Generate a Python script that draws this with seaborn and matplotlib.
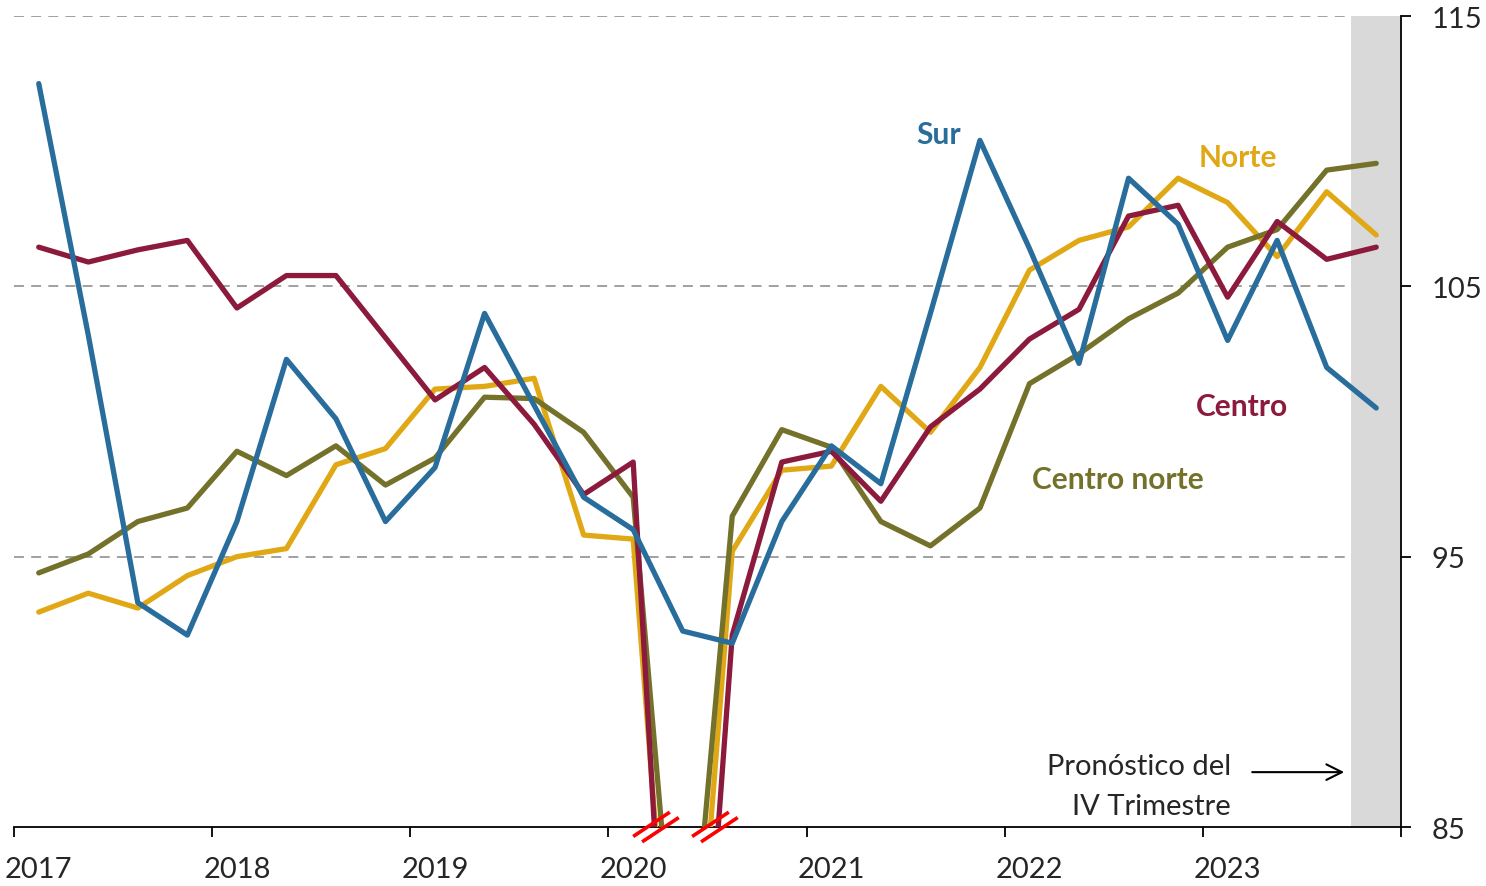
import numpy as np
import pandas as pd
import seaborn as sns
import matplotlib.pyplot as plt

# Datos trimestrales 2017T1 - 2023T4 (indice regional)
years = ['2017', '2018', '2019', '2020', '2021', '2022', '2023']

sur = [112.5, 103.2, 93.3, 92.1, 96.3, 102.3, 100.1, 96.3, 98.3, 104.0,
       100.6, 97.2, 96.0, 92.25, 91.8, 96.3, 99.1, 97.7, 104.0, 110.4,
       106.4, 102.15, 109.0, 107.3, 103.0, 106.7, 102.0, 100.5]
norte = [92.95, 93.65, 93.1, 94.3, 95.0, 95.3, 98.4, 99.0, 101.2, 101.3,
         101.6, 95.8, 95.65, 72.0, 95.2, 98.2, 98.35, 101.3, 99.6, 102.0,
         105.6, 106.7, 107.2, 109.0, 108.1, 106.1, 108.5, 106.9]
centro_norte = [94.4, 95.1, 96.3, 96.8, 98.9, 98.0, 99.1, 97.65, 98.65, 100.9,
                100.85, 99.6, 97.2, 76.0, 96.5, 99.7, 99.05, 96.3, 95.4, 96.8,
                101.4, 102.5, 103.8, 104.75, 106.45, 107.1, 109.3, 109.55]
centro = [106.45, 105.9, 106.35, 106.7, 104.2, 105.4, 105.4, 103.1, 100.8, 102.0,
          99.9, 97.3, 98.5, 67.0, 92.1, 98.5, 98.9, 97.05, 99.8, 101.2,
          103.05, 104.15, 107.6, 108.0, 104.6, 107.4, 106.0, 106.45]

regions = ['Norte', 'Centro norte', 'Centro', 'Sur']
colors = {'Norte': '#e1a816', 'Centro norte': '#74722a',
          'Centro': '#8c1a3c', 'Sur': '#286d9b'}

n = len(sur)
df = pd.concat([
    pd.DataFrame({'t': np.arange(n), 'valor': vals, 'region': name})
    for name, vals in zip(regions, [norte, centro_norte, centro, sur])
])

sns.set_style('white')
plt.rcParams['font.family'] = ['Lato', 'DejaVu Sans']

fig = plt.figure(figsize=(14.86, 8.87), dpi=100)
ax = fig.add_axes([0.0094, 0.0665, 0.9334, 0.9143])

# Lineas de referencia y zona de pronostico
for yv in [95, 105, 115]:
    ax.axhline(yv, color='#999999', lw=1.3, ls=(0, (5.5, 4)), zorder=1)
ax.axvspan(n - 1.5, n - 0.5, color='#d9d9d9', lw=0, zorder=2)

sns.lineplot(data=df, x='t', y='valor', hue='region', hue_order=regions,
             palette=colors, linewidth=3.8, legend=False, ax=ax,
             zorder=3, solid_joinstyle='round', solid_capstyle='round')

ax.set_xlim(-0.5, n - 0.5)
ax.set_ylim(85, 115)

# Ejes
ax.yaxis.tick_right()
ax.set_yticks([85, 95, 105, 115])
ax.set_xticks(np.arange(-0.5, n, 4))
ax.set_xticklabels([])
ax.set_xticks(np.arange(0, n, 4), minor=True)
ax.set_xticklabels(years, minor=True)
ax.tick_params(axis='x', which='major', direction='out', length=7, width=1.3,
               color='black', bottom=True)
ax.tick_params(axis='x', which='minor', length=0, pad=21, labelsize=21)
ax.tick_params(axis='y', direction='out', length=7, width=1.3, color='black',
               right=True, pad=15, labelsize=21)
for side in ['left', 'top']:
    ax.spines[side].set_visible(False)
for side in ['right', 'bottom']:
    ax.spines[side].set_color('black')
    ax.spines[side].set_linewidth(1.3)
ax.set_xlabel('')
ax.set_ylabel('')
ax.grid(False)

# Marcas de corte del eje
def corte(xc):
    for off in [-1, 1]:
        x0 = xc + off * 0.09
        y0 = 85 - off * 0.1
        ax.plot([x0 - 0.37, x0 + 0.37], [y0 - 0.45, y0 + 0.45], color='red',
                lw=2.6, clip_on=False, zorder=6, solid_capstyle='butt')

corte(12.46)
corte(13.65)

# Etiquetas de series
lab = dict(fontsize=21.5, fontweight='bold', ha='center', va='center')
ax.text(18.17, 110.63, 'Sur', color=colors['Sur'], **lab)
ax.text(24.21, 109.78, 'Norte', color=colors['Norte'], **lab)
ax.text(24.29, 100.57, 'Centro', color=colors['Centro'], **lab)
ax.text(21.79, 97.87, 'Centro norte', color=colors['Centro norte'], **lab)

# Nota de pronostico
ax.text(24.07, 87.25, 'Pronóstico del', fontsize=21, ha='right', va='center')
ax.text(24.07, 85.77, 'IV Trimestre', fontsize=21, ha='right', va='center')
ax.annotate('', xy=(26.41, 87.03), xytext=(24.44, 87.03),
            arrowprops=dict(arrowstyle='->', color='black', lw=1.5,
                            mutation_scale=28))

fig.savefig('out.png', dpi=100)
